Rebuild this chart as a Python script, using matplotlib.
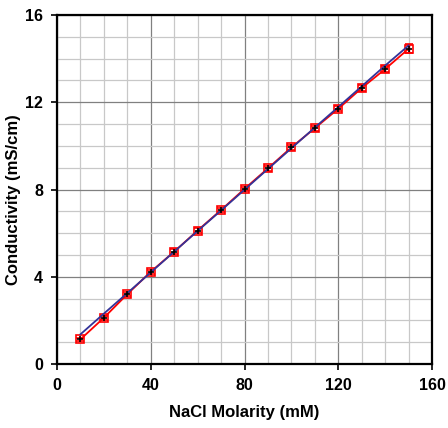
import matplotlib
matplotlib.use("Agg")
import matplotlib.pyplot as plt
from matplotlib.ticker import MultipleLocator

molarity = [10, 20, 30, 40, 50, 60, 70, 80, 90, 100, 110, 120, 130, 140, 150]
measured = [1.13, 2.12, 3.20, 4.23, 5.15, 6.12, 7.06, 8.03, 8.97, 9.93, 10.81, 11.70, 12.65, 13.52, 14.45]
errors = [0.08, 0.08, 0.08, 0.1, 0.1, 0.1, 0.1, 0.1, 0.12, 0.12, 0.12, 0.12, 0.12, 0.15, 0.2]
reference = [1.36, 2.31, 3.25, 4.20, 5.15, 6.10, 7.04, 7.99, 8.94, 9.89, 10.84, 11.78, 12.73, 13.68, 14.60]

plt.rcParams['font.family'] = ['Liberation Sans', 'DejaVu Sans']

fig = plt.figure(figsize=(4.48, 4.28), dpi=100)
ax = fig.add_axes([57/448, 1-364/428, (432-57)/448, (364-15)/428])

ax.errorbar(molarity, measured, yerr=errors, color='#ff0000', lw=1.3,
            marker='s', ms=5.5, mfc='none', mec='#ff0000', mew=1.2,
            ecolor='#ff0000', elinewidth=1, capsize=3, zorder=3)
ax.plot(molarity, measured, ls='none', marker='+', ms=4, mec='black', mew=1.2, zorder=5)
ax.plot(molarity, reference, color='#333399', lw=1.3, zorder=4)

ax.set_xlim(0, 160)
ax.set_ylim(0, 16)
ax.xaxis.set_major_locator(MultipleLocator(40))
ax.xaxis.set_minor_locator(MultipleLocator(10))
ax.yaxis.set_major_locator(MultipleLocator(4))
ax.yaxis.set_minor_locator(MultipleLocator(1))
ax.grid(which='major', color='#808080', lw=0.9, zorder=0)
ax.grid(which='minor', color='#c8c8c8', lw=0.9, zorder=0)
ax.set_axisbelow(True)

for s in ax.spines.values():
    s.set_linewidth(1.6)
    s.set_color('black')

ax.tick_params(which='major', direction='out', length=4, width=1.2, labelsize=11.5, pad=6)
ax.tick_params(which='minor', length=0)
for lab in ax.get_xticklabels() + ax.get_yticklabels():
    lab.set_fontweight('bold')

ax.set_xlabel('NaCl Molarity (mM)', fontsize=12, fontweight='bold', labelpad=9)
ax.set_ylabel('Conductivity (mS/cm)', fontsize=12, fontweight='bold')
ax.yaxis.set_label_coords((21 - 57) / 375, (364 - 200) / 349)

fig.savefig('out.png', dpi=100)
